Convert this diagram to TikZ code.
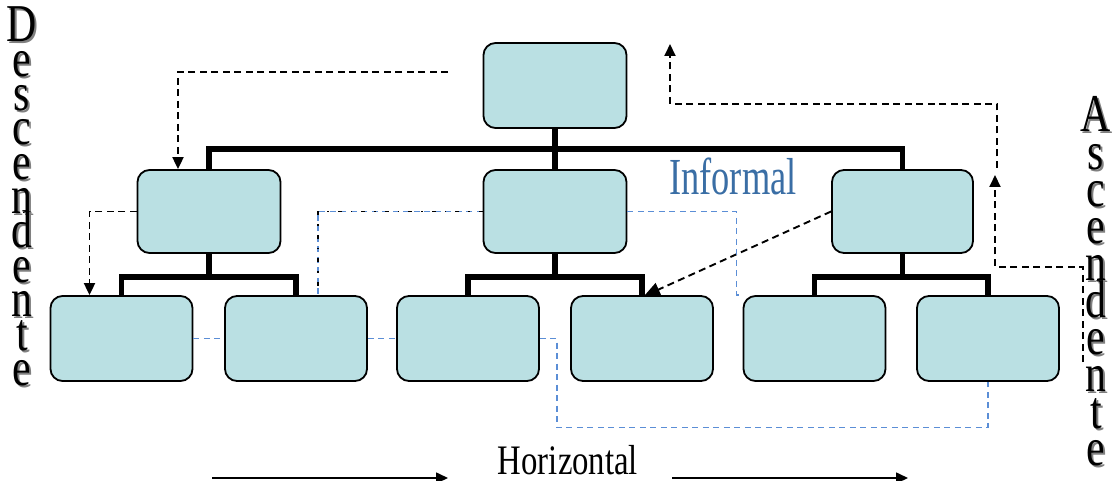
\documentclass[tikz,border=0pt]{standalone}
\usepackage{fontspec}
\setmainfont{Liberation Serif}
\usepackage{graphicx}
\usetikzlibrary{arrows.meta,positioning,calc}

\definecolor{unitfill}{RGB}{186,224,227}
\definecolor{infoblue}{RGB}{91,142,214}
\definecolor{infotext}{RGB}{58,110,165}

% stretched letters for the vertical words
\newcommand{\tallchar}[1]{\scalebox{1.1}[1.4]{#1}}

\begin{document}
\begin{tikzpicture}[
  x=1pt,y=-1pt,
  unit/.style={draw, line width=1.8pt, fill=unitfill, rounded corners=12pt, minimum width=143pt, minimum height=85pt, inner sep=0pt},
  tree/.style={line width=5.5pt},
  comm/.style={line width=1.9pt, dash pattern=on 7pt off 4.5pt, -{Triangle[length=12pt,width=11pt]}},
  info/.style={line width=1.6pt, infoblue, dash pattern=on 6pt off 4.5pt},
  infomix/.style={info, postaction={draw=black, line width=1.2pt, dash pattern=on 4pt off 9pt on 1.5pt off 9pt}},
  flow/.style={line width=1.6pt, -{Triangle[length=12pt,width=11pt]}},
  vchar/.style={font=\fontsize{38}{38}\selectfont, inner sep=0pt, anchor=base}
]
\useasboundingbox (0,0) rectangle (1114,481);

% organisation chart
\node[unit] (top) at (555,85.5) {};
\node[unit, minimum height=83pt] (m1) at (209,211.5) {};
\node[unit, minimum height=83pt] (m2) at (555,211.5) {};
\node[unit, minimum height=83pt, minimum width=141pt] (m3) at (902.5,211.5) {};
\node[unit, minimum width=142pt] (b1) at (121.5,338.5) {};
\node[unit, minimum width=142pt] (b2) at (296,338.5) {};
\node[unit, minimum width=142pt] (b3) at (468,338.5) {};
\node[unit, minimum width=142pt] (b4) at (642,338.5) {};
\node[unit, minimum width=142pt] (b5) at (814.5,338.5) {};
\node[unit, minimum width=142pt] (b6) at (988,338.5) {};

\draw[tree] (top.south) -- ++(0,20) coordinate (j0);
\draw[tree] (m1.north) |- (j0) -| (m3.north);
\draw[tree] (j0) -- (m2.north);
\draw[tree] (m1.south) -- ++(0,23) coordinate (j1);
\draw[tree] (b1.north) |- (j1) -| (b2.north);
\draw[tree] (m2.south) -- ++(0,23) coordinate (j2);
\draw[tree] (b3.north) |- (j2) -| (b4.north);
\draw[tree] (m3.south) -- ++(0,23) coordinate (j3);
\draw[tree] (b5.north) |- (j3) -| (b6.north);

% downward and upward communication
\coordinate (dstart) at (448,72);
\draw[comm] (dstart) -| ([xshift=-31pt]m1.north);
\draw[comm] (m1.west) -| ([xshift=-32pt]b1.north);
\draw[comm, -{Triangle[length=16pt,width=14pt]}] (m3.west) -- ([xshift=2pt,yshift=-1pt]b4.north);
\coordinate (astart) at (1083,362);
\draw[comm] (astart) -- ++(0,-95) -| ++(-88,-92) coordinate (aup);
\coordinate (astart2) at (997,168);
\draw[comm] (astart2) -- ++(0,-64) -| ++(-327,-60);

% informal links
\draw[info] (m2.east) -| ([xshift=-6pt]b5.north west) -- (b5.north west);
\draw[infomix] (m2.west) -| ([xshift=22pt]b2.north);
\draw[info] (b1.east) -- (b2.west);
\draw[info] (b2.east) -- (b3.west);
\draw[info] (b3.east) -| ++(17,89) -| (b6.south);

\node[font=\fontsize{52}{52}\selectfont, text=infotext] (informal) at (733,176) {\scalebox{0.7}[1]{Informal}};

% horizontal
\node[font=\fontsize{42}{42}\selectfont, anchor=base] (horiz) at (568,474) {\scalebox{0.78}[1]{Horizontal}};
\coordinate (h0) at (212,478);
\coordinate (h1) at (448,478);
\coordinate (h2) at (672,478);
\coordinate (h3) at (908,478);
\draw[flow] (h0) -- (h1);
\draw[flow] (h2) -- (h3);

% vertical words
\foreach \ch [count=\i from 0] in {D,e,s,c,e,n,d,e,n,t,e} {
  \node[vchar, text=black!50] (dsh\i) at (24, 44+34.3*\i) {\tallchar{\ch}};
  \node[vchar] (dch\i) at (22, 42+34.3*\i) {\tallchar{\ch}};
}
\foreach \ch [count=\i from 0] in {A,s,c,e,n,d,e,n,t,e} {
  \node[vchar, text=black!50] (ash\i) at (1098, 134+37.1*\i) {\tallchar{\ch}};
  \node[vchar] (ach\i) at (1096, 132+37.1*\i) {\tallchar{\ch}};
}
\end{tikzpicture}
\end{document}
